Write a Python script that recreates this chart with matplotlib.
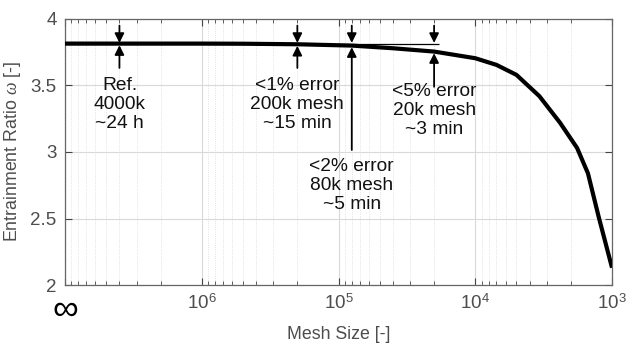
import numpy as np
import matplotlib
matplotlib.use("Agg")
import matplotlib.pyplot as plt
from matplotlib.ticker import LogLocator, NullFormatter, FixedLocator
from matplotlib.transforms import ScaledTranslation

plt.rcParams['font.family'] = ['Liberation Sans', 'DejaVu Sans']
plt.rcParams['mathtext.fontset'] = 'custom'
plt.rcParams['mathtext.rm'] = 'Liberation Sans'
plt.rcParams['mathtext.it'] = 'Liberation Serif:italic'

# Data
mesh = [1e7, 4e6, 2e6, 1e6, 5e5, 2e5, 8e4, 4e4, 2e4, 1e4, 7e3, 5e3, 3.4e3, 2.4e3, 1.8e3, 1.5e3, 1.25e3, 1e3]
omega = [3.815, 3.815, 3.815, 3.815, 3.814, 3.81, 3.80, 3.78, 3.755, 3.705, 3.655, 3.58, 3.42, 3.22, 3.03, 2.84, 2.51, 2.13]
ref_value = 3.815

ann_mesh = [4e6, 2e5, 8e4, 2e4]
ann_text = ["Ref.\n4000k\n~24 h", "<1% error\n200k mesh\n~15 min",
            "<2% error\n80k mesh\n~5 min", "<5% error\n20k mesh\n~3 min"]
ann_text_y = [3.36, 3.36, 2.75, 3.31]
ann_tail_y = [3.632, 3.632, 3.015, 3.49]
down_top_y = 3.95

xticks = [1e7, 1e6, 1e5, 1e4, 1e3]
xticklabels = ['∞', '$10^6$', '$10^5$', '$10^4$', '$10^3$']
yticks = [2, 2.5, 3, 3.5, 4]
yticklabels = ['2', '2.5', '3', '3.5', '4']

gray = '#4d4d4d'
fig = plt.figure(figsize=(6.27, 3.44), dpi=100)
ax = fig.add_axes([0.1037, 0.1715, 0.8724, 0.7733])
ax.set_xscale('log')
ax.set_xlim(1e7, 1e3)
ax.set_ylim(2, 4)

ax.plot(mesh, omega, color='black', lw=3, solid_capstyle='butt', zorder=3)
ax.hlines(ref_value, 1e7, 1.85e4, color='black', lw=0.9, zorder=3)

logm = np.log10(mesh)[::-1]
om = np.array(omega)[::-1]
for m, t, ty, tail in zip(ann_mesh, ann_text, ann_text_y, ann_tail_y):
    cv = np.interp(np.log10(m), logm, om)
    ax.annotate('', xy=(m, ref_value + 0.005), xytext=(m, down_top_y),
                arrowprops=dict(arrowstyle='-|>', color='black', lw=1.3,
                                mutation_scale=14, shrinkA=0, shrinkB=0), zorder=4)
    ax.annotate('', xy=(m, cv - 0.012), xytext=(m, tail),
                arrowprops=dict(arrowstyle='-|>', color='black', lw=1.3,
                                mutation_scale=14, shrinkA=0, shrinkB=0), zorder=4)
    ax.text(m, ty, t, ha='center', va='center', fontsize=13.75, color='#111111',
            linespacing=1.15, zorder=5)

ax.xaxis.set_major_locator(FixedLocator(xticks))
ax.set_xticklabels(xticklabels)
ax.xaxis.set_minor_locator(LogLocator(base=10, subs=np.arange(2, 10), numticks=20))
ax.xaxis.set_minor_formatter(NullFormatter())
ax.set_yticks(yticks)
ax.set_yticklabels(yticklabels)

for lbl in ax.get_xticklabels():
    if lbl.get_text() == '∞':
        lbl.set_fontsize(26)
        lbl.set_color('black')
        lbl.set_transform(lbl.get_transform() + ScaledTranslation(0, 4 / 72, fig.dpi_scale_trans))
    else:
        lbl.set_fontsize(13.5)
        lbl.set_color(gray)
for lbl in ax.get_yticklabels():
    lbl.set_fontsize(13.5)
    lbl.set_color(gray)

ax.tick_params(which='both', direction='in', top=True, right=True, color='#444444')
ax.tick_params(which='major', length=5, width=0.8, pad=6)
ax.tick_params(which='minor', length=3, width=0.6)
ax.grid(True, which='major', color='#d9d9d9', lw=0.8)
ax.grid(True, which='minor', axis='x', color='#d9d9d9', lw=0.6, ls=':')
for s in ax.spines.values():
    s.set_color('#666666')
    s.set_linewidth(0.9)

ax.set_xlabel('Mesh Size [-]', fontsize=12.75, color=gray, labelpad=-2)
ax.set_ylabel(r'Entrainment Ratio $\omega$ [-]', fontsize=12.75, color=gray, labelpad=5)

fig.savefig('out.png', dpi=100)
